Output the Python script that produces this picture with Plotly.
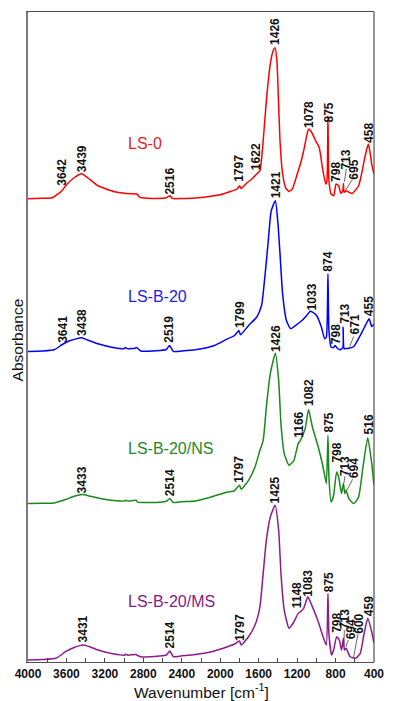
import plotly.graph_objects as go

# ---------------- data (wavenumber in cm-1, absorbance in a.u. relative to each baseline) -------------
wn_ls0 = [4000, 3850, 3747, 3700, 3646, 3600, 3520, 3441, 3380, 3272, 3180, 3100, 3000, 2939, 2868, 2835,
          2750, 2665, 2560, 2521, 2500, 2400, 2261, 2100, 2000, 1900, 1823, 1799, 1782, 1720, 1672, 1621,
          1587, 1553, 1520, 1479, 1450, 1429, 1410, 1400, 1378, 1351, 1318, 1284, 1250, 1199, 1166, 1132,
          1100, 1081, 1048, 1007, 970, 937, 903, 890, 879, 869, 846, 819, 795, 768, 745, 724, 718, 712,
          694, 660, 627, 560, 509, 480, 459, 440, 424, 400]
abs_ls0 = [0, 0.5, 1, 4, 8, 14, 21, 25, 21, 13, 9.5, 7, 5.5, 5, 4.7, 1.3,
           0.5, 0.3, 1, 3, 0.3, 0.2, 0.7, 2.5, 4, 7, 9.7, 13, 10.3, 16, 19.7, 24.7,
           28, 58, 98, 135, 148, 151.3, 138, 115, 58, 25, 10.7, 7.3, 9.7, 24.7, 34.7, 48,
           63, 69.7, 66.3, 58, 51.3, 31.3, 14.7, 18, 83, 18, 4.7, 3, 14.7, 13, 5.3, 8, 15.3, 6.3,
           8, 6.5, 5.3, 13, 34.7, 48, 54.7, 46, 34.7, 24.7]

wn_b20 = [4000, 3850, 3727, 3643, 3560, 3441, 3380, 3272, 3103, 3002, 2990, 2960, 2885, 2870, 2827, 2700,
          2632, 2560, 2527, 2487, 2400, 2261, 2059, 1924, 1850, 1806, 1789, 1705, 1621, 1570, 1536, 1503,
          1469, 1426, 1400, 1378, 1351, 1311, 1267, 1217, 1149, 1100, 1065, 1040, 997, 947, 913, 896,
          879, 869, 846, 820, 805, 780, 752, 724, 721, 711, 690, 661, 610, 543, 500, 451, 424, 400]
abs_b20 = [0, 0.5, 1.7, 7, 11, 13.7, 11.5, 7.7, 3.7, 2.7, 4.0, 2.7, 3.3, 4.0, 0.5, 0.5,
           1, 2, 6, 0, 0.5, 1.7, 6, 12.7, 16, 21, 16.7, 26, 34.3, 46, 74.3, 107.7,
           141, 151, 129, 98, 58, 31, 22.7, 26, 31, 36, 40.3, 39.5, 36, 24.3, 12.7, 14.3,
           77.7, 21, 4.3, 4, 6, 3, 1.7, 4, 24.3, 2.7, 3, 3.3, 5, 16, 24, 32.7, 25, 27.7]

wn_ns = [4000, 3850, 3727, 3609, 3520, 3434, 3350, 3272, 3103, 2990, 2986, 2960, 2875, 2860, 2750, 2632,
         2560, 2524, 2490, 2400, 2261, 2093, 1924, 1856, 1799, 1782, 1705, 1638, 1587, 1553, 1520, 1479,
         1426, 1392, 1368, 1334, 1284, 1233, 1189, 1166, 1116, 1081, 1041, 980, 930, 896, 879, 869,
         846, 820, 789, 768, 738, 718, 704, 691, 661, 610, 560, 515, 465, 424, 400]
abs_ns = [0, 0.3, 0.6, 4, 7.3, 9, 7.3, 5.6, 3, 2.6, 3.3, 2.5, 3.3, 1.5, 1.1, 1.3,
          2.3, 5, 1, 1.8, 2.6, 6.6, 11.6, 12.6, 18.3, 14.3, 23.3, 36.6, 53.3, 63.3, 96.6, 130,
          150.6, 123.3, 80, 50, 38.3, 43.3, 60, 63.3, 75, 94.3, 76.6, 56.6, 36.6, 20, 68.3, 26.6,
          1.6, 8.3, 31.6, 26.6, 10, 20, 10, 13.3, 5, 0, 6.6, 36.6, 66, 40.3, 18.3]

wn_ms = [4000, 3850, 3710, 3609, 3520, 3424, 3350, 3272, 3103, 2990, 2986, 2960, 2875, 2860, 2827, 2632,
         2560, 2524, 2487, 2400, 2261, 2093, 1924, 1850, 1799, 1782, 1705, 1638, 1587, 1553, 1520, 1479,
         1429, 1392, 1368, 1334, 1284, 1233, 1189, 1166, 1132, 1088, 1048, 980, 930, 896, 879, 869,
         841, 820, 789, 761, 738, 718, 708, 691, 648, 593, 543, 509, 465, 424, 400]
abs_ms = [0, 0.5, 1.7, 8.3, 12.5, 15, 13, 10, 6, 5, 5.8, 4.8, 5.5, 4.5, 3.3, 4,
          5, 9, 3.3, 4.2, 5.5, 8.3, 13.3, 16, 19, 15, 23.3, 35, 53.3, 86.7, 120, 143.3,
          155, 130, 86.7, 50, 31.7, 38.3, 46.7, 48.3, 51.7, 63.3, 55, 38.3, 23.3, 15, 66.7, 26.7,
          5, 10, 23.3, 20, 10, 21.7, 10, 11.7, 3.3, 1.7, 6.7, 23.3, 41.7, 28.3, 16.7]

names = ["LS-0", "LS-B-20", "LS-B-20/NS", "LS-B-20/MS"]
colors = ["#ff0000", "#0000ff", "#1a8a1a", "#8e1a8e"]
name_colors = ["#e8202a", "#2222dd", "#1f8a1f", "#861a86"]
offsets = [464, 311, 158.7, 2]
series = [(wn_ls0, abs_ls0), (wn_b20, abs_b20), (wn_ns, abs_ns), (wn_ms, abs_ms)]

# peak labels: (text, x [cm-1], y [a.u., stacked])
peak_labels = [
    ("3642", 3646, 490), ("3439", 3444, 504), ("2516", 2524, 482), ("1797", 1799, 494.5),
    ("1622", 1621, 506.3), ("1426", 1428, 631.2), ("1078", 1075, 548), ("875", 872, 550),
    ("798", 794, 491), ("713", 693, 503), ("695", 609, 493), ("458", 451, 530),
    ("3641", 3643, 333), ("3438", 3441, 340.3), ("2519", 2527, 333.3), ("1799", 1799, 348),
    ("1421", 1424, 478), ("1033", 1047, 366), ("874", 878, 401), ("798", 794, 328.5),
    ("713", 710, 349), ("671", 599, 338), ("455", 451, 356.5),
    ("3433", 3434, 182.3), ("2514", 2524, 180), ("1797", 1799, 193), ("1426", 1424, 324),
    ("1166", 1176, 238), ("1082", 1075, 269.5), ("875", 872, 239.5), ("798", 787, 209.5),
    ("713", 701, 196), ("694", 609, 194), ("516", 451, 238),
    ("3431", 3424, 33), ("2514", 2524, 27.5), ("1797", 1799, 34.5), ("1425", 1428, 172),
    ("1148", 1199, 67), ("1083", 1081, 79), ("875", 872, 79.5), ("798", 787, 39),
    ("713", 701, 43), ("694", 636, 33), ("600", 559, 38), ("459", 451, 56),
]
# leader lines for crowded labels: (x0, y0, x1, y1)
leaders = [
    (688, 494, 708, 481), (626, 483, 700, 472),
    (612, 326, 653, 316),
    (703, 186, 713, 179), (622, 183, 683, 172),
    (708, 32, 715, 16), (668, 22, 693, 15), (567, 28, 612, 5),
]
name_pos = [(2976, 519), (2976, 366), (2976, 214), (2976, 60.3)]

FONT = "Liberation Sans, Arial, sans-serif"

fig = go.Figure()
for (wn, ab), off, c, nm in zip(series, offsets, colors, names):
    fig.add_trace(go.Scatter(x=wn, y=[a + off for a in ab], mode="lines", name=nm,
                             line=dict(color=c, width=1.5, shape="spline", smoothing=0.5),
                             showlegend=False, hoverinfo="skip"))

annotations = []
for t, x, y in peak_labels:
    annotations.append(dict(x=x, y=y, xref="x", yref="y", text=t, showarrow=False, textangle=-90,
                            xanchor="center", yanchor="middle",
                            font=dict(family=FONT, size=12, color="#111111", weight="bold")))
for nm, (x, y), c in zip(names, name_pos, name_colors):
    annotations.append(dict(x=x, y=y, xref="x", yref="y", text=nm, showarrow=False,
                            xanchor="left", yanchor="middle",
                            font=dict(family=FONT, size=16, color=c)))
annotations.append(dict(x=-0.0295, y=0.496, xref="paper", yref="paper", text="Absorbance", showarrow=False,
                        textangle=-90, xanchor="center", yanchor="middle",
                        font=dict(family=FONT, size=15.5, color="#111111")))
annotations.append(dict(x=0.5, y=-0.045, xref="paper", yref="paper", text="Wavenumber [cm<sup>-1</sup>]",
                        showarrow=False, xanchor="center", yanchor="middle",
                        font=dict(family=FONT, size=15.5, color="#111111")))

shapes = [dict(type="line", xref="x", yref="y", x0=a, y0=b, x1=c, y1=d,
               line=dict(color="#444444", width=0.8)) for a, b, c, d in leaders]
shapes.append(dict(type="line", xref="paper", yref="paper", x0=1, x1=1, y0=0, y1=1,
                   line=dict(color="#505050", width=1.2)))

fig.update_layout(
    width=395, height=701,
    margin=dict(l=28, r=11, t=11, b=39),
    paper_bgcolor="white", plot_bgcolor="white",
    annotations=annotations, shapes=shapes,
    xaxis=dict(range=[4000, 400], tickvals=[4000, 3600, 3200, 2800, 2400, 2000, 1600, 1200, 800, 400],
               ticks="inside", ticklen=4, tickcolor="#444444", tickwidth=1,
               minor=dict(dtick=200, ticks="inside", ticklen=4, tickcolor="#444444"),
               showgrid=False, zeroline=False, showline=True, mirror=True,
               linecolor="#505050", linewidth=1.2,
               tickfont=dict(family=FONT, size=12, color="#111111", weight="bold")),
    yaxis=dict(range=[0, 651], showticklabels=False, ticks="", showgrid=False, zeroline=False,
               showline=True, linecolor="#7a7a7a", linewidth=2),
)

fig.write_html("out.html")
